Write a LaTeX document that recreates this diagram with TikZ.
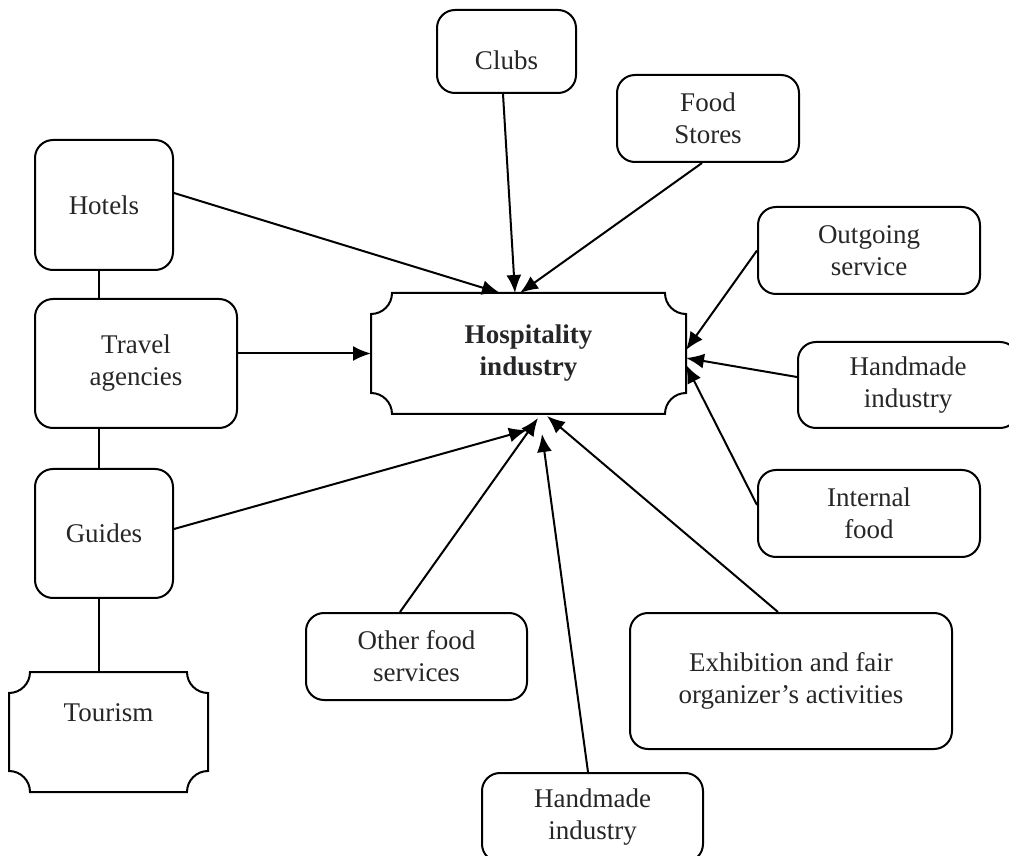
\documentclass[tikz,border=0pt]{standalone}
\usepackage{fontspec}
\setmainfont{Liberation Serif}
\usepackage{tikz}
\usetikzlibrary{arrows.meta}
\definecolor{inkgray}{RGB}{38,38,40}
\newcommand{\ticketbox}[1]{%
  \draw ([xshift=10.5pt]#1.north west) -- ([xshift=-10.5pt]#1.north east)
    arc (180:270:10.5pt) -- ([yshift=10.5pt]#1.south east)
    arc (90:180:10.5pt) -- ([xshift=10.5pt]#1.south west)
    arc (0:90:10.5pt) -- ([yshift=-10.5pt]#1.north west)
    arc (270:360:10.5pt) -- cycle;}

\begin{document}
\begin{tikzpicture}[x=0.5pt,y=-0.5pt,line width=1pt,
    box/.style={draw, rounded corners=9pt, inner sep=0pt, align=center,
      text=inkgray, font=\fontsize{13.5}{16}\selectfont},
    ticket/.style={inner sep=0pt, align=center, text=inkgray,
      font=\fontsize{13.5}{16}\selectfont},
    link/.style={-{Latex[length=9pt,width=7.5pt]}}]
    \useasboundingbox (0,0) rectangle (1009,856);
    \node [ticket, minimum width=156.5pt, minimum height=59.5pt]
      (hosp) at (528.5,353.5) {\textbf{Hospitality}\\\textbf{industry}};
    \ticketbox{hosp}
    \node [ticket, minimum width=98.5pt, text height=24pt, text depth=35pt,
      anchor=base] (tourism) at (108.5,721) {Tourism};
    \ticketbox{tourism}
    \node [box, minimum width=69.5pt, minimum height=41.5pt, text height=18pt]
      (clubs) at (506.5,51.5) {Clubs};
    \node [box, minimum width=91pt, minimum height=43.5pt]
      (stores) at (708,118.5) {Food\\Stores};
    \node [box, minimum width=69pt, minimum height=65pt]
      (hotels) at (104,205) {Hotels};
    \node [box, minimum width=101pt, minimum height=64.5pt]
      (travel) at (136,363.5) {Travel\\agencies};
    \node [box, minimum width=69pt, minimum height=64.5pt]
      (guides) at (104,533.5) {Guides};
    \node [box, minimum width=111pt, minimum height=43.5pt]
      (outgoing) at (869,250.5) {Outgoing\\service};
    \node [box, minimum width=110pt, minimum height=43pt]
      (handright) at (908,385) {Handmade\\industry};
    \node [box, minimum width=111pt, minimum height=43.5pt]
      (internal) at (869,513.5) {Internal\\food};
    \node [box, minimum width=110.5pt, minimum height=43.5pt]
      (otherfood) at (416.5,656.5) {Other food\\services};
    \node [box, minimum width=161pt, minimum height=68pt]
      (exhib) at (791,681) {Exhibition and fair\\organizer’s activities};
    \node [box, minimum width=110.5pt, minimum height=44.5pt]
      (handbottom) at (592.5,817.5) {Handmade\\industry};
    \draw ([xshift=-2.5pt]hotels.south) -- ([xshift=-2.5pt]hotels.south |- travel.north);
    \draw ([xshift=-2.5pt]guides.north |- travel.south) -- ([xshift=-2.5pt]guides.north);
    \draw ([xshift=-2.5pt]guides.south) -- ([xshift=-2.5pt]guides.south |- tourism.north);
    \draw [link] ([yshift=6pt]hotels.east) -- ([xshift=-14.25pt]hosp.north);
    \draw [link] ([xshift=-1.75pt]clubs.south) -- ([xshift=-6.75pt]hosp.north);
    \draw [link] ([xshift=-3pt]stores.south) -- ([xshift=-4.25pt]hosp.north);
    \draw [link] (travel.east |- hosp.west) -- (hosp.west);
    \draw [link] (outgoing.west) -- ([yshift=1.75pt]hosp.east);
    \draw [link] ([yshift=4pt]handright.west) -- ([yshift=-2.25pt]hosp.east);
    \draw [link] ([yshift=4.25pt]internal.west) -- ([yshift=-5.75pt]hosp.east);
    \draw [link] ([yshift=2.25pt]guides.east) -- ([xshift=-0.75pt,yshift=-8pt]hosp.south);
    \draw [link] ([xshift=-8.25pt]otherfood.north) -- ([xshift=4.75pt,yshift=-2pt]hosp.south);
    \draw [link] ([xshift=-2.25pt]handbottom.north) -- ([xshift=6.75pt,yshift=-10pt]hosp.south);
    \draw [link] ([xshift=-6.5pt]exhib.north) -- ([xshift=9.25pt,yshift=-1pt]hosp.south);
\end{tikzpicture}
\end{document}
